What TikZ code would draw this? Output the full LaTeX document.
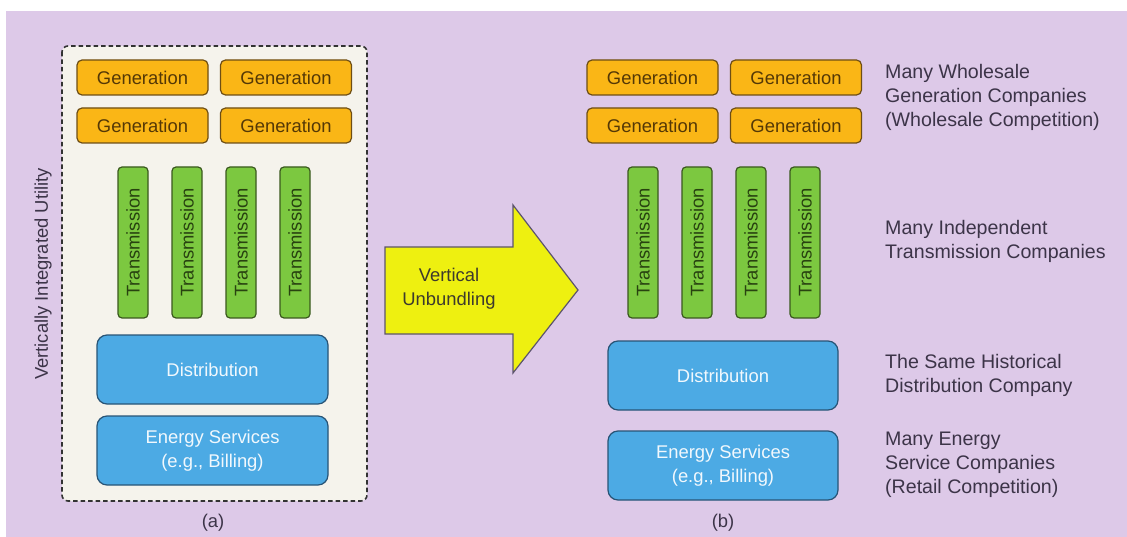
\documentclass[tikz,border=0pt]{standalone}
\usepackage{fontspec}
\setmainfont{Liberation Sans}
\usepackage{tikz}
\definecolor{lav}{RGB}{221,201,232}
\definecolor{paper}{RGB}{245,243,236}
\definecolor{genfill}{RGB}{250,182,22}
\definecolor{gendraw}{RGB}{110,78,20}
\definecolor{gentext}{RGB}{84,56,6}
\definecolor{trfill}{RGB}{124,200,64}
\definecolor{trdraw}{RGB}{58,88,30}
\definecolor{trtext}{RGB}{40,66,16}
\definecolor{blfill}{RGB}{76,170,228}
\definecolor{bldraw}{RGB}{40,84,118}
\definecolor{arfill}{RGB}{238,240,16}
\definecolor{ardraw}{RGB}{92,84,110}
\definecolor{labtext}{RGB}{60,52,72}

\begin{document}
\begin{tikzpicture}[x=1pt,y=-1pt]
\tikzset{gen/.style = {shape=rectangle,rounded corners=5pt,draw=gendraw,line width=1.2pt,fill=genfill,text=gentext,minimum width=131pt,minimum height=35pt,inner sep=0pt,font=\fontsize{18.4}{24}\selectfont}}
\tikzset{trans/.style = {shape=rectangle,rounded corners=4pt,draw=trdraw,line width=1.2pt,fill=trfill,text=trtext,minimum width=151pt,minimum height=30pt,inner sep=0pt,rotate=90,font=\fontsize{18.4}{24}\selectfont}}
\tikzset{blue/.style = {shape=rectangle,rounded corners=10pt,draw=bldraw,line width=1.2pt,fill=blfill,text=white!92!blfill,minimum height=69pt,inner sep=0pt,align=center,font=\fontsize{18.4}{24}\selectfont}}
\tikzset{side/.style = {anchor=west,align=left,text=labtext,inner sep=0pt,font=\fontsize{19.6}{24}\selectfont}}
\tikzset{captext/.style = {text=labtext,inner sep=0pt,font=\fontsize{18.4}{24}\selectfont}}
\useasboundingbox (0,0) rectangle (1127,537);
\fill[lav] (6,11) rectangle (1127,537);

% (a) the integrated utility
\draw[line width=1.6pt,draw=black!80,fill=paper,rounded corners=6pt,dash pattern=on 4.5pt off 3pt] (62,46) rectangle (367,501);
\node[gen] (ga1) at (142.5,77.5) {Generation};
\node[gen] (ga2) at (286,77.5) {Generation};
\node[gen] (ga3) at (142.5,125.5) {Generation};
\node[gen] (ga4) at (286,125.5) {Generation};
\node[trans] (ta1) at (133,242.5) {Transmission};
\node[trans] (ta2) at (187,242.5) {Transmission};
\node[trans] (ta3) at (241,242.5) {Transmission};
\node[trans] (ta4) at (295,242.5) {Transmission};
\node[blue,minimum width=231pt] (da) at (212.5,369.5) {Distribution};
\node[blue,minimum width=231pt] (ea) at (212.5,450.5) {Energy Services\\(e.g., Billing)};
\node[captext,rotate=90] (vu) at (43,274) {Vertically Integrated Utility};
\node[captext] (capa) at (213,523) {(a)};

% the arrow
\draw[fill=arfill,draw=ardraw,line width=1.2pt,line join=miter] (385,247) -- (513,247) -- (513,205) -- (578,290) -- (513,373) -- (513,334) -- (385,334) -- cycle;
\node[captext,align=center,text=black!75!olive] (unb) at (449,289) {Vertical\\Unbundling};

% (b) after unbundling
\node[gen] (gb1) at (652.5,77.5) {Generation};
\node[gen] (gb2) at (796,77.5) {Generation};
\node[gen] (gb3) at (652.5,125.5) {Generation};
\node[gen] (gb4) at (796,125.5) {Generation};
\node[trans] (tb1) at (643,242.5) {Transmission};
\node[trans] (tb2) at (697,242.5) {Transmission};
\node[trans] (tb3) at (751,242.5) {Transmission};
\node[trans] (tb4) at (805,242.5) {Transmission};
\node[blue,minimum width=230pt] (db) at (723,375.5) {Distribution};
\node[blue,minimum width=230pt] (eb) at (723,465.5) {Energy Services\\(e.g., Billing)};
\node[captext] (capb) at (723,523) {(b)};

\node[side] (lgen) at (885,97) {Many Wholesale\\Generation Companies\\(Wholesale Competition)};
\node[side] (ltr) at (885,241) {Many Independent\\Transmission Companies};
\node[side] (ldis) at (885,375) {The Same Historical\\Distribution Company};
\node[side] (lesc) at (885,465) {Many Energy\\Service Companies\\(Retail Competition)};
\end{tikzpicture}
\end{document}
